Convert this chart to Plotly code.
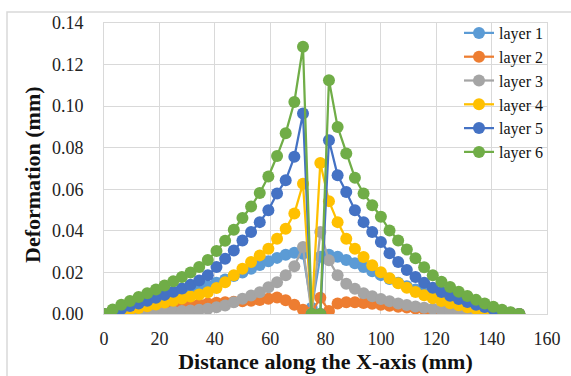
import plotly.graph_objects as go

step = 3.125
x_mm = [round(step * i, 3) for i in range(49)]

layer1 = [0, 0.0010, 0.0021, 0.0032, 0.0043, 0.0054, 0.0065, 0.0076, 0.0087, 0.0098,
          0.0110, 0.0122, 0.0135, 0.0150, 0.0166, 0.0183, 0.0200, 0.0218, 0.0236, 0.0254,
          0.0270, 0.0285, 0.0295, 0.0290, 0.0030, 0.0275, 0.0285, 0.0275, 0.0260, 0.0244,
          0.0226, 0.0206, 0.0187, 0.0168, 0.0150, 0.0134, 0.0118, 0.0103, 0.0089, 0.0076,
          0.0064, 0.0053, 0.0042, 0.0033, 0.0024, 0.0016, 0.0009, 0.0004, 0]
layer2 = [0, 0.0003, 0.0006, 0.0010, 0.0014, 0.0018, 0.0022, 0.0027, 0.0032, 0.0038,
          0.0043, 0.0047, 0.0051, 0.0054, 0.0057, 0.0059, 0.0061, 0.0064, 0.0067, 0.0073,
          0.0079, 0.0066, 0.0045, 0.0020, 0.0008, 0.0078, 0.0015, 0.0050, 0.0057, 0.0056,
          0.0053, 0.0049, 0.0045, 0.0040, 0.0035, 0.0031, 0.0027, 0.0023, 0.0019, 0.0016,
          0.0013, 0.0010, 0.0008, 0.0006, 0.0004, 0.0003, 0.0002, 0.0001, 0]
layer3 = [0, 0.0001, 0.0002, 0.0003, 0.0005, 0.0006, 0.0008, 0.0010, 0.0012, 0.0014,
          0.0017, 0.0020, 0.0025, 0.0033, 0.0041, 0.0057, 0.0073, 0.0089, 0.0105, 0.0129,
          0.0153, 0.0186, 0.0230, 0.0322, 0, 0.0394, 0.0258, 0.0186, 0.0146, 0.0121,
          0.0100, 0.0085, 0.0072, 0.0061, 0.0051, 0.0043, 0.0036, 0.0030, 0.0025, 0.0020,
          0.0016, 0.0013, 0.0010, 0.0007, 0.0005, 0.0003, 0.0002, 0.0001, 0]
layer4 = [0, 0.0006, 0.0013, 0.0021, 0.0029, 0.0037, 0.0046, 0.0055, 0.0064, 0.0074,
          0.0084, 0.0094, 0.0105, 0.0125, 0.0153, 0.0186, 0.0218, 0.0250, 0.0282, 0.0314,
          0.0362, 0.0410, 0.0483, 0.0627, 0, 0.0727, 0.0543, 0.0442, 0.0362, 0.0314,
          0.0274, 0.0234, 0.0201, 0.0172, 0.0148, 0.0126, 0.0106, 0.0090, 0.0076, 0.0063,
          0.0052, 0.0042, 0.0033, 0.0025, 0.0018, 0.0011, 0.0006, 0.0002, 0]
layer5 = [0, 0.0012, 0.0025, 0.0038, 0.0051, 0.0064, 0.0078, 0.0092, 0.0107, 0.0123,
          0.0141, 0.0161, 0.0186, 0.0226, 0.0266, 0.0306, 0.0354, 0.0394, 0.0442, 0.0499,
          0.0580, 0.0643, 0.0756, 0.0965, 0, 0, 0.0836, 0.0667, 0.0587, 0.0499,
          0.0442, 0.0394, 0.0346, 0.0292, 0.0250, 0.0212, 0.0178, 0.0150, 0.0126, 0.0106,
          0.0088, 0.0072, 0.0058, 0.0045, 0.0034, 0.0023, 0.0014, 0.0006, 0]
layer6 = [0, 0.0022, 0.0044, 0.0063, 0.0082, 0.0100, 0.0118, 0.0137, 0.0157, 0.0178,
          0.0200, 0.0226, 0.0260, 0.0303, 0.0352, 0.0405, 0.0462, 0.0517, 0.0582, 0.0662,
          0.0760, 0.0870, 0.1020, 0.1286, 0, 0, 0.1125, 0.0900, 0.0772, 0.0655,
          0.0580, 0.0523, 0.0468, 0.0402, 0.0354, 0.0310, 0.0268, 0.0225, 0.0186, 0.0155,
          0.0130, 0.0107, 0.0087, 0.0068, 0.0051, 0.0035, 0.0021, 0.0009, 0]

series_names = ["layer 1", "layer 2", "layer 3", "layer 4", "layer 5", "layer 6"]
series_values = [layer1, layer2, layer3, layer4, layer5, layer6]
colors = ["#5B9BD5", "#ED7D31", "#A5A5A5", "#FFC000", "#4472C4", "#70AD47"]

x_ticks = [0, 20, 40, 60, 80, 100, 120, 140, 160]
y_ticks = [0.00, 0.02, 0.04, 0.06, 0.08, 0.10, 0.12, 0.14]

FONT = "Liberation Serif"

fig = go.Figure()
for name, vals, c in zip(series_names, series_values, colors):
    fig.add_trace(go.Scatter(
        x=x_mm, y=vals, name=name, mode="lines+markers",
        line=dict(color=c, width=2.25),
        marker=dict(color=c, size=12, line=dict(width=0)),
    ))

W, H = 571, 376
L, R, T, B = 104, 24, 23, 62
pw, ph = W - L - R, H - T - B

def px_x(p):
    return (p - L) / pw

def px_y(p):
    return (H - B - p) / ph

fig.update_layout(
    width=W, height=H,
    margin=dict(l=L, r=R, t=T, b=B),
    paper_bgcolor="white", plot_bgcolor="white",
    font=dict(family=FONT, size=18, color="#222222"),
    showlegend=True,
    legend=dict(
        x=px_x(459), y=px_y(16), xanchor="left", yanchor="top",
        bgcolor="rgba(0,0,0,0)",
        font=dict(family=FONT, size=16, color="#111111"),
        tracegroupgap=0,
    ),
    xaxis=dict(
        range=[0, 160], tickvals=x_ticks, ticktext=[str(v) for v in x_ticks],
        tickfont=dict(family=FONT, size=18, color="#222222"),
        showgrid=True, gridcolor="#D9D9D9", gridwidth=1,
        showline=True, linecolor="#D9D9D9", mirror=True,
        zeroline=False, ticks="outside", ticklen=8, tickcolor="rgba(0,0,0,0)",
        automargin=False,
        title=dict(text="<b>Distance along the X-axis (mm)</b>",
                   font=dict(family=FONT, size=22, color="#111111"), standoff=0),
    ),
    yaxis=dict(
        range=[0, 0.14], tickvals=y_ticks, ticktext=[f"{v:.2f}" for v in y_ticks],
        tickfont=dict(family=FONT, size=18, color="#222222"),
        showgrid=True, gridcolor="#D9D9D9", gridwidth=1,
        showline=True, linecolor="#D9D9D9", mirror=True,
        zeroline=False, ticks="outside", ticklen=16, tickcolor="rgba(0,0,0,0)",
        automargin=False,
    ),
    annotations=[dict(
        text="<b>Deformation (mm)</b>", textangle=-90,
        xref="paper", yref="paper", x=px_x(33), y=px_y(175),
        xanchor="center", yanchor="middle", showarrow=False,
        font=dict(family=FONT, size=22, color="#111111"),
    )],
    shapes=[dict(type="rect", xref="paper", yref="paper",
                 x0=px_x(7), y0=px_y(385), x1=px_x(580), y1=px_y(12),
                 line=dict(color="#D9D9D9", width=1.5), fillcolor="rgba(0,0,0,0)",
                 layer="below")],
)

fig.write_html("out.html", config={"displayModeBar": False},
               post_script="document.body.style.margin='0';")
